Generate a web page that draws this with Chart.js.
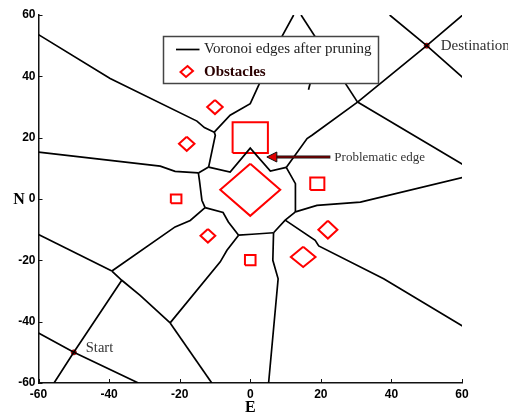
<!DOCTYPE html>
<html>
<head>
<meta charset="utf-8">
<script src="https://cdn.jsdelivr.net/npm/chart.js@4.4.1/dist/chart.umd.min.js"></script>
<style>
  html, body { margin: 0; padding: 0; background: #fff; }
  #wrap { width: 508px; height: 416px; }
</style>
</head>
<body>
<div id="wrap"><canvas id="c" width="508" height="416"></canvas></div>
<script>
// Axis ticks (E and N, metres)
const tickValues = [-60, -40, -20, 0, 20, 40, 60];

// Voronoi edges kept after pruning, as polylines of [E, N]
const edgeNorthWest  = [[-60, 53.6], [-39.7, 39.3], [-15.1, 25.4], [-13, 23.3], [-10.2, 21.8]];
const edgeNorthUp    = [[-10.2, 21.8], [-5.7, 27.3], [0, 31.1], [2.4, 37.1], [9, 53], [12.3, 60]];
const edgeNorthDown  = [[-10.2, 21.8], [-9.9, 20.8], [-11.8, 10.4]];
const edgeWest       = [[-60, 15.3], [-25.5, 10.7], [-21.3, 9.0], [-14.7, 8.5]];
const edgeWestLink   = [[-14.7, 8.5], [-11.8, 10.4]];
const edgeProblem    = [[-11.8, 10.4], [-5.7, 8.8], [0, 16.6], [5.7, 9.1], [10.2, 10.3]];
const edgeWestDown   = [[-14.7, 8.5], [-14.4, 6.1], [-13.7, -0.4], [-12.8, -2.8]];
const edgeSouthWest1 = [[-12.8, -2.8], [-17, -7.0], [-21.3, -9.1], [-39.2, -23.5]];
const edgeCentreLow  = [[-12.8, -2.8], [-7.7, -4.4], [-6.2, -7.5], [-3.3, -11.8]];
const edgeCentreEast = [[-3.3, -11.8], [0.5, -11.5], [6.6, -11.0]];
const edgeLink1      = [[6.6, -11.0], [9.9, -6.9], [12.8, -4.2]];
const edgeEastUp     = [[12.8, -4.2], [12.8, 5.0], [10.2, 10.3]];
const edgeNorthEast  = [[10.2, 10.3], [16.1, 19.7], [17.5, 20.8], [30.4, 31.6]];
const edgeTopRight   = [[30.4, 31.6], [14.4, 60]];
const edgeGoal       = [[30.4, 31.6], [50, 50], [60.2, 60]];
const edgeEastHigh   = [[30.4, 31.6], [60.2, 11.3]];
const edgeGoalCross  = [[39.5, 60], [50, 50], [60.2, 39.6]];
const edgeEastMid    = [[12.8, -4.2], [18.9, -2.1], [31.2, -1.0], [60.2, 7.0]];
const edgeSouthEast  = [[9.9, -6.9], [18.4, -13.5], [19.4, -15.3], [37.8, -26], [60.2, -41.5]];
const edgeSouth      = [[6.6, -11.0], [6.4, -20], [7.9, -26], [5.2, -60]];
const edgeSouthMid   = [[-3.3, -11.8], [-6.6, -16.7], [-8.5, -20.5], [-22.7, -40.4]];
const edgeSouthLow   = [[-22.7, -40.4], [-10.9, -60]];
const edgeWestLow    = [[-60, -11.6], [-39.2, -23.5]];
const edgeDiagonal   = [[-39.2, -23.5], [-36.4, -26.5], [-31.2, -31.4], [-22.7, -40.4]];
const edgeStart      = [[-36.4, -26.5], [-50, -50], [-55.6, -60]];
const edgeStartCross = [[-60, -43.7], [-50, -50], [-31.7, -60]];
const edgeStub       = [[16.5, 35.6], [17.5, 40]];

const edges = [
  edgeNorthWest, edgeNorthUp, edgeNorthDown, edgeWest, edgeWestLink, edgeProblem,
  edgeWestDown, edgeSouthWest1, edgeCentreLow, edgeCentreEast, edgeLink1, edgeEastUp,
  edgeNorthEast, edgeTopRight, edgeGoal, edgeEastHigh, edgeGoalCross, edgeEastMid,
  edgeSouthEast, edgeSouth, edgeSouthMid, edgeSouthLow, edgeWestLow, edgeDiagonal,
  edgeStart, edgeStartCross, edgeStub
];

// Obstacle outlines, closed, as [E, N]
const obstacleBlock   = [[-5, 15], [5, 15], [5, 25], [-5, 25], [-5, 15]];
const obstacleBigRock = [[0, 11.5], [8.5, 3], [0, -5.5], [-8.5, 3], [0, 11.5]];
const obstacleA = [[-10, 32.3], [-7.8, 30], [-10, 27.7], [-12.2, 30], [-10, 32.3]];
const obstacleB = [[-18, 20.3], [-15.8, 18], [-18, 15.7], [-20.2, 18], [-18, 20.3]];
const obstacleC = [[-22.5, -1.4], [-19.5, -1.4], [-19.5, 1.5], [-22.5, 1.5], [-22.5, -1.4]];
const obstacleD = [[-12, -9.8], [-9.9, -12], [-12, -14.2], [-14.1, -12], [-12, -9.8]];
const obstacleE = [[-1.5, -21.6], [1.5, -21.6], [1.5, -18.3], [-1.5, -18.3], [-1.5, -21.6]];
const obstacleF = [[17, 2.9], [21, 2.9], [21, 7], [17, 7], [17, 2.9]];
const obstacleG = [[22, -7.1], [24.7, -10], [22, -12.9], [19.3, -10], [22, -7.1]];
const obstacleH = [[15, -15.6], [18.5, -18.9], [15, -22.2], [11.5, -18.9], [15, -15.6]];

const obstacles = [
  obstacleBlock, obstacleBigRock, obstacleA, obstacleB, obstacleC,
  obstacleD, obstacleE, obstacleF, obstacleG, obstacleH
];

// Path end points
const startPoint = [-50, -50];
const destinationPoint = [50, 50];

// Arrow marking the problematic edge: tail and tip, [E, N]
const arrowTail = [22.7, 13.7];
const arrowTip = [4.7, 13.7];

const toXY = pts => pts.map(([x, y]) => ({ x, y }));

const datasets = [];
edges.forEach(e => datasets.push({
  data: toXY(e), showLine: true, borderColor: '#000', borderWidth: 1.7,
  pointRadius: 0, fill: false, tension: 0
}));
obstacles.forEach(o => datasets.push({
  data: toXY(o), showLine: true, borderColor: '#ff0000', borderWidth: 2,
  pointRadius: 0, fill: false, tension: 0
}));
datasets.push({
  data: toXY([startPoint, destinationPoint]), showLine: false,
  pointRadius: 2.6, pointBackgroundColor: '#e00000', pointBorderColor: '#600', pointBorderWidth: 0.6
});

const serif = "'Liberation Serif', 'Times New Roman', serif";

const decor = {
  id: 'decor',
  afterDatasetsDraw(chart) {
    const ctx = chart.ctx;
    const sx = chart.scales.x, sy = chart.scales.y;
    const area = chart.chartArea;
    ctx.save();

    // inward tick marks
    ctx.strokeStyle = '#111';
    ctx.lineWidth = 1;
    tickValues.forEach(v => {
      const px = Math.round(sx.getPixelForValue(v)) + 0.5;
      ctx.beginPath(); ctx.moveTo(px, area.bottom); ctx.lineTo(px, area.bottom - 4); ctx.stroke();
      const py = Math.round(sy.getPixelForValue(v)) + 0.5;
      ctx.beginPath(); ctx.moveTo(area.left, py); ctx.lineTo(area.left + 4, py); ctx.stroke();
    });

    // axis names
    ctx.fillStyle = '#000';
    ctx.font = "bold 16px " + serif;
    ctx.textAlign = 'center';
    ctx.textBaseline = 'middle';
    ctx.fillText('N', 19, sy.getPixelForValue(0) + 0.5);
    ctx.fillText('E', sx.getPixelForValue(0), 408);

    // legend box
    const lx = 163.5, ly = 36.5, lw = 215, lh = 47;
    ctx.fillStyle = '#fff';
    ctx.fillRect(lx, ly, lw, lh);
    ctx.strokeStyle = '#444';
    ctx.lineWidth = 1.5;
    ctx.strokeRect(lx, ly, lw, lh);

    ctx.strokeStyle = '#000';
    ctx.lineWidth = 1.7;
    ctx.beginPath(); ctx.moveTo(176, 49.5); ctx.lineTo(199.5, 49.5); ctx.stroke();
    ctx.fillStyle = '#222';
    ctx.font = "15px " + serif;
    ctx.textAlign = 'left';
    ctx.textBaseline = 'middle';
    ctx.fillText('Voronoi edges after pruning', 204, 49.5);

    ctx.strokeStyle = '#ff0000';
    ctx.lineWidth = 2;
    ctx.beginPath();
    ctx.moveTo(187.5, 66); ctx.lineTo(193, 71); ctx.lineTo(186, 77); ctx.lineTo(180.5, 72); ctx.closePath();
    ctx.stroke();
    ctx.fillStyle = '#2a0000';
    ctx.font = "bold 15px " + serif;
    ctx.fillText('Obstacles', 204, 72);

    // arrow to the problematic edge
    const tx = sx.getPixelForValue(arrowTail[0]), ty = sy.getPixelForValue(arrowTail[1]);
    const hx = sx.getPixelForValue(arrowTip[0]), hy = sy.getPixelForValue(arrowTip[1]);
    ctx.lineCap = 'butt';
    ctx.strokeStyle = '#111';
    ctx.lineWidth = 3.2;
    ctx.beginPath(); ctx.moveTo(tx, ty); ctx.lineTo(hx + 8, hy); ctx.stroke();
    ctx.strokeStyle = '#7a0000';
    ctx.lineWidth = 1.3;
    ctx.beginPath(); ctx.moveTo(tx - 0.5, ty); ctx.lineTo(hx + 8, hy); ctx.stroke();
    ctx.fillStyle = '#e00000';
    ctx.strokeStyle = '#111';
    ctx.lineWidth = 1;
    ctx.beginPath();
    ctx.moveTo(hx, hy); ctx.lineTo(hx + 10, hy - 5); ctx.lineTo(hx + 10, hy + 5); ctx.closePath();
    ctx.fill(); ctx.stroke();

    // annotations
    ctx.fillStyle = '#333';
    ctx.textAlign = 'left';
    ctx.textBaseline = 'middle';
    ctx.font = "13px " + serif;
    ctx.fillText('Problematic edge', tx + 4, ty + 1);
    ctx.font = "15px " + serif;
    ctx.fillText('Destination',
      sx.getPixelForValue(destinationPoint[0]) + 14, sy.getPixelForValue(destinationPoint[1]) + 0.5);
    ctx.font = "14.5px " + serif;
    ctx.fillText('Start',
      sx.getPixelForValue(startPoint[0]) + 12, sy.getPixelForValue(startPoint[1]) - 4);

    ctx.restore();
  }
};

const tickFont = { family: "'Liberation Sans', Arial, sans-serif", size: 12, weight: 'bold' };

new Chart(document.getElementById('c'), {
  type: 'scatter',
  data: { datasets },
  options: {
    responsive: false,
    animation: false,
    devicePixelRatio: 1,
    layout: { padding: { top: 15, right: 46, left: 0, bottom: 0 } },
    plugins: { legend: { display: false }, tooltip: { enabled: false } },
    scales: {
      x: {
        type: 'linear', min: -60, max: 60,
        afterBuildTicks: s => { s.ticks = tickValues.map(v => ({ value: v })); },
        afterFit: s => { s.height = 33; },
        grid: { display: false, drawTicks: false },
        border: { display: true, color: '#111', width: 1.5 },
        ticks: { color: '#000', font: tickFont, padding: 4, maxRotation: 0, autoSkip: false }
      },
      y: {
        type: 'linear', min: -60, max: 60,
        afterBuildTicks: s => { s.ticks = tickValues.map(v => ({ value: v })); },
        afterFit: s => { s.width = 38.5; },
        grid: { display: false, drawTicks: false },
        border: { display: true, color: '#111', width: 1.5 },
        ticks: { color: '#000', font: tickFont, padding: 3, autoSkip: false }
      }
    }
  },
  plugins: [decor]
});
</script>
</body>
</html>
